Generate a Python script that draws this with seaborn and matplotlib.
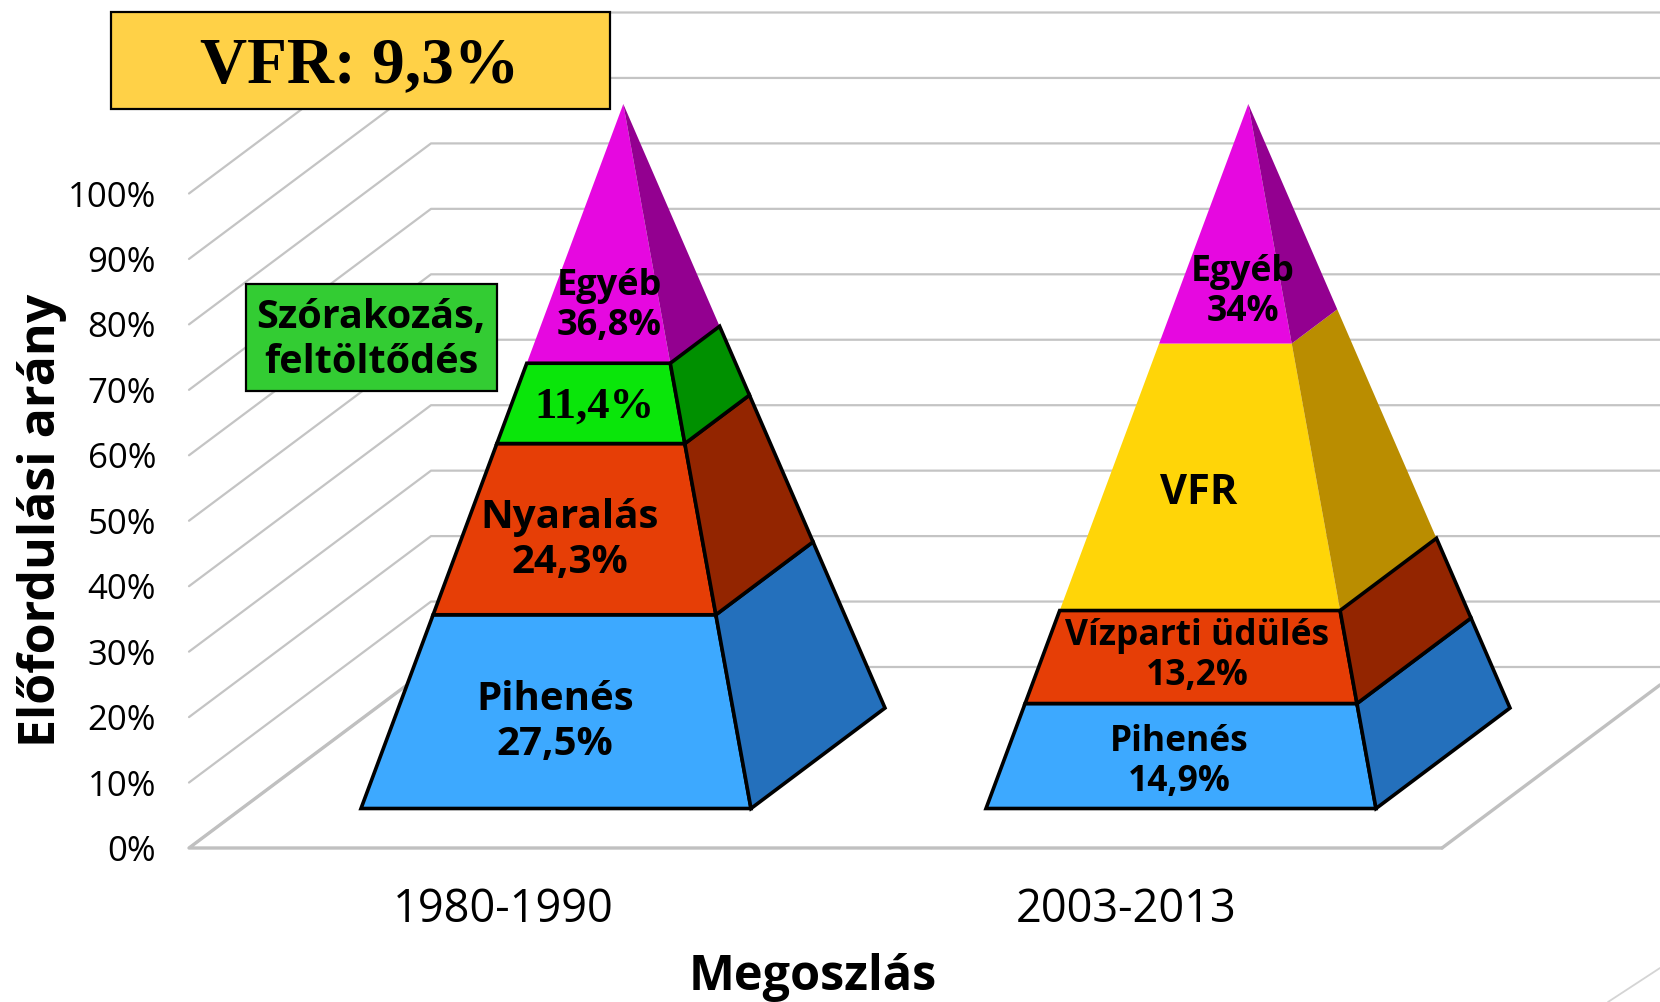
import matplotlib
matplotlib.use("Agg")
import matplotlib.pyplot as plt
import numpy as np
import pandas as pd
import seaborn as sns

# ---- data ----
periods = ["1980-1990", "2003-2013"]
percent_ticks = [0, 10, 20, 30, 40, 50, 60, 70, 80, 90, 100]
tick_labels = ["0%", "10%", "20%", "30%", "40%", "50%", "60%", "70%", "80%", "90%", "100%"]

shares_1980 = [27.5, 24.3, 11.4, 36.8]
labels_1980 = ["Pihenés\n27,5%", "Nyaralás\n24,3%", "11,4%", "Egyéb\n36,8%"]
front_1980 = ["#3DA9FF", "#E63E06", "#0AE60A", "#E608E0"]
side_1980 = ["#2470BC", "#932500", "#009000", "#930090"]
outlined_1980 = [True, True, True, False]

shares_2003 = [14.9, 13.2, 37.9, 34.0]
labels_2003 = ["Pihenés\n14,9%", "Vízparti üdülés\n13,2%", "VFR", "Egyéb\n34%"]
front_2003 = ["#3DA9FF", "#E63E06", "#FFD508", "#E608E0"]
side_2003 = ["#2470BC", "#932500", "#BA8D00", "#930090"]
outlined_2003 = [True, True, False, False]

# ---- layout of the oblique 3-D view, in output pixels ----
W, H = 1660, 1002
FRONT_Y0, BACK_Y0 = 848.0, 667.0
PX_PER_PCT_WALL = 6.545
WALL_X_FRONT, WALL_X_BACK = 189.0, 431.0
FLOOR_RIGHT_X = 1442.0
BASE_Y, APEX_Y = 808.5, 104.0
BASE_LEFT, BASE_RIGHT, BASE_BACK_X, BASE_BACK_Y, APEX_X = 361.0, 751.0, 885.0, 708.0, 623.3
PERIOD_STEP = 625.0

sns.set_theme(style="white")
fig = plt.figure(figsize=(W / 100, H / 100), dpi=100)
ax = fig.add_axes([0, 0, 1, 1])
ax.axis("off")

SANS = ["Open Sans", "DejaVu Sans"]
SERIF = ["Liberation Serif", "DejaVu Serif"]


def front_y(p):
    return FRONT_Y0 - PX_PER_PCT_WALL * p


def back_y(p):
    return BACK_Y0 - PX_PER_PCT_WALL * p


# ---- walls and floor ----
rows = []
for p in percent_ticks:
    rows.append((f"w{p}", WALL_X_FRONT, front_y(p)))
    rows.append((f"w{p}", WALL_X_BACK, back_y(p)))
    rows.append((f"w{p}", W, back_y(p)))
grid = pd.DataFrame(rows, columns=["line", "x", "y"])
sns.lineplot(data=grid, x="x", y="y", units="line", estimator=None, sort=False,
             color="#C4C4C4", lw=1.6, legend=False, ax=ax, zorder=1)
floor_slope = (FRONT_Y0 - BACK_Y0) / (WALL_X_BACK - WALL_X_FRONT)
floor = pd.DataFrame({
    "line": ["f"] * 3 + ["g"] * 2 + ["b"] * 2,
    "x": [WALL_X_BACK, WALL_X_FRONT, FLOOR_RIGHT_X, FLOOR_RIGHT_X, W, 1608, W],
    "y": [BACK_Y0, FRONT_Y0, FRONT_Y0, FRONT_Y0, FRONT_Y0 - (W - FLOOR_RIGHT_X) * floor_slope, 1002, 968],
})
sns.lineplot(data=floor[floor.line != "b"], x="x", y="y", units="line", estimator=None, sort=False,
             color="#C0C0C0", lw=2.4, legend=False, ax=ax, zorder=1)
sns.lineplot(data=floor[floor.line == "b"], x="x", y="y", units="line", estimator=None, sort=False,
             color="#D4D4D4", lw=1.3, legend=False, ax=ax, zorder=1)


# ---- pyramids ----
def along(v0, v1, pct):
    return v0 + (v1 - v0) * pct / 100.0


def draw_pyramid(slot, shares, fronts, sides, outlined):
    dx = slot * PERIOD_STEP
    tops = np.cumsum(shares)
    bottoms = tops - np.array(shares)
    apex_x = APEX_X + dx
    order = sorted(range(len(shares)), key=lambda k: outlined[k])
    for k in order:
        b, t = bottoms[k], tops[k]
        lb = along(BASE_LEFT + dx, apex_x, b); lt = along(BASE_LEFT + dx, apex_x, t)
        rb = along(BASE_RIGHT + dx, apex_x, b); rt = along(BASE_RIGHT + dx, apex_x, t)
        kb = along(BASE_BACK_X + dx, apex_x, b); kt = along(BASE_BACK_X + dx, apex_x, t)
        yb = along(BASE_Y, APEX_Y, b); yt = along(BASE_Y, APEX_Y, t)
        zb = along(BASE_BACK_Y, APEX_Y, b); zt = along(BASE_BACK_Y, APEX_Y, t)
        ec = "black" if outlined[k] else "none"
        z = 3 if outlined[k] else 2
        ax.fill([lb, rb, rt, lt], [yb, yb, yt, yt], facecolor=fronts[k], edgecolor=ec,
                lw=2.6, joinstyle="miter", zorder=z)
        ax.fill([rb, kb, kt, rt], [yb, zb, zt, yt], facecolor=sides[k], edgecolor=ec,
                lw=2.6, joinstyle="miter", zorder=z)


draw_pyramid(0, shares_1980, front_1980, side_1980, outlined_1980)
draw_pyramid(1, shares_2003, front_2003, side_2003, outlined_2003)

# ---- segment labels ----
pos_1980 = [(555, 722), (570, 540), (594, 407), (609, 306)]
pos_2003 = [(1179, 762), (1197, 656), (1199, 493), (1243, 292)]
size_1980 = [29, 29, 32, 26]
size_2003 = [25.5, 25.5, 30, 25.7]
spacing_1980 = [1.2, 1.2, 1.1, 1.15]
spacing_2003 = [1.17, 1.17, 1.1, 1.17]
for labels, positions, sizes, spacings in ((labels_1980, pos_1980, size_1980, spacing_1980),
                                           (labels_2003, pos_2003, size_2003, spacing_2003)):
    for text, (x, y), fs, ls in zip(labels, positions, sizes, spacings):
        serif = text == "11,4%"
        ax.text(x, y, text, ha="center", va="center", color="black", fontweight="bold",
                family=SERIF if serif else SANS, fontsize=fs, linespacing=ls, zorder=5)

# ---- axis text ----
for p, lab in zip(percent_ticks, tick_labels):
    ax.text(156, front_y(p), lab, ha="right", va="center_baseline", family=SANS, fontsize=25, color="black")
for slot, per in enumerate(periods):
    ax.text(503 + slot * 623, 910, per, ha="center", va="center", family=SANS, fontsize=32.5, color="black")
ax.text(42, 520, "Előfordulási arány", rotation=90, ha="center", va="center", family=SANS,
        fontweight="bold", fontsize=36, color="black")
ax.text(813, 977, "Megoszlás", ha="center", va="center", family=SANS,
        fontweight="bold", fontsize=35, color="black")

# ---- callout boxes ----
ax.fill([111, 610, 610, 111], [12, 12, 109, 109], facecolor="#FFD147", edgecolor="black", lw=1.6, zorder=6)
ax.text(360, 66, "VFR: 9,3%", ha="center", va="center", family=SERIF, fontweight="bold",
        fontsize=47, color="black", zorder=7)
ax.fill([245.5, 497, 497, 245.5], [284, 284, 391, 391], facecolor="#33CC33", edgecolor="black", lw=1.6, zorder=6)
ax.text(371, 340, "Szórakozás,\nfeltöltődés", ha="center", va="center", family=SANS, fontweight="bold",
        fontsize=28.5, color="black", linespacing=1.2, zorder=7)

ax.set_xlim(0, W)
ax.set_ylim(H, 0)
ax.set_xlabel("")
ax.set_ylabel("")
fig.savefig("out.png", dpi=100, facecolor="white")
